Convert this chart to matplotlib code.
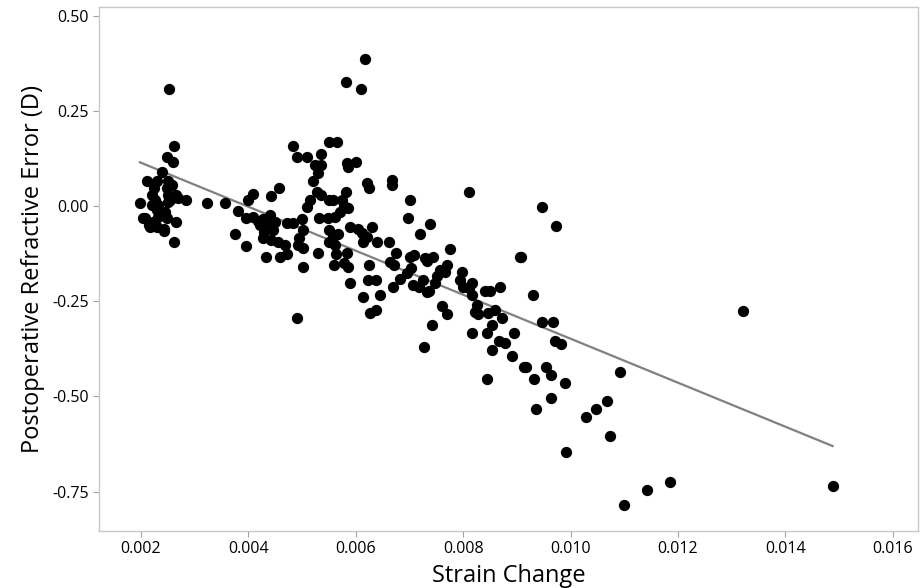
import matplotlib.pyplot as plt
import numpy as np

plt.rcParams['font.family'] = ['Open Sans', 'DejaVu Sans']

# strain change vs postoperative refractive error
strain = [
    # left cluster
    0.00252, 0.00262, 0.00248, 0.00259, 0.00239, 0.00212, 0.00229, 0.00251, 0.00257, 0.00225,
    0.00248, 0.00220, 0.00251, 0.00266, 0.00226, 0.00254, 0.00269, 0.00284, 0.00198, 0.00220,
    0.00232, 0.00251, 0.00229, 0.00245, 0.00207, 0.00232, 0.00248, 0.00265, 0.00214, 0.00229,
    0.00242, 0.00262, 0.00222, 0.00204, 0.00217, 0.00243,
    # 0.003 - 0.0055
    0.00323, 0.00357, 0.004825, 0.0049, 0.00509, 0.00536, 0.0055, 0.00565, 0.00524, 0.00535,
    0.0053, 0.0052, 0.00527, 0.00535, 0.00515, 0.0051, 0.00457, 0.00443, 0.00408, 0.0040,
    0.00381, 0.00395, 0.00408, 0.00418, 0.00428, 0.0044, 0.00422, 0.00434, 0.0045, 0.0043,
    0.00445, 0.00428, 0.00443, 0.00456, 0.00468, 0.00472, 0.00458, 0.00433, 0.00375, 0.00396,
    0.00472, 0.00484, 0.00499, 0.00502, 0.00495, 0.00493, 0.00502, 0.0053, 0.00502, 0.00491,
    0.00532, 0.00549, 0.00551, 0.00551, 0.00551,
    # 0.0055 - 0.0075
    0.00618, 0.00581, 0.00609, 0.00583, 0.0060, 0.00586, 0.0062, 0.00625, 0.00667, 0.00668,
    0.00582, 0.00557, 0.00575, 0.00701, 0.00578, 0.00586, 0.00571, 0.00561, 0.00698, 0.00589,
    0.00605, 0.00611, 0.00631, 0.0062, 0.00613, 0.0064, 0.00661, 0.0072, 0.00738, 0.00558,
    0.00566, 0.00561, 0.00564, 0.00584, 0.00559, 0.00578, 0.00586, 0.00625, 0.00589, 0.00623,
    0.00638, 0.00614, 0.00646, 0.00626, 0.00638, 0.00675, 0.00664, 0.00671, 0.00701, 0.00708,
    0.00729, 0.00702, 0.00696, 0.00682, 0.00669, 0.00706, 0.00718, 0.00726, 0.00733,
    # 0.0075 - 0.009
    0.00811, 0.00946, 0.00744, 0.00733, 0.00775, 0.00906, 0.00769, 0.00757, 0.00766, 0.00752,
    0.00797, 0.00794, 0.00747, 0.00737, 0.00816, 0.00799, 0.0081, 0.00816, 0.00841, 0.0085,
    0.00869, 0.0076, 0.0077, 0.00825, 0.00822, 0.00828, 0.00847, 0.00859, 0.00873, 0.00853,
    0.00844, 0.00817, 0.00895, 0.00867, 0.00878, 0.00742, 0.00727, 0.00853, 0.00844,
    # right tail
    0.00973, 0.00907, 0.0093, 0.00946, 0.00968, 0.00971, 0.00982, 0.0089, 0.00913, 0.00917,
    0.00954, 0.00963, 0.00932, 0.0099, 0.01092, 0.01321, 0.00964, 0.00935, 0.01028, 0.01047,
    0.01068, 0.00992, 0.01074, 0.01099, 0.01142, 0.01186, 0.01488,
]
error = [
    0.307, 0.158, 0.129, 0.116, 0.088, 0.066, 0.066, 0.066, 0.055, 0.046,
    0.046, 0.029, 0.029, 0.029, 0.016, 0.016, 0.020, 0.016, 0.009, 0.003,
    0.003, 0.011, -0.011, -0.015, -0.032, -0.030, -0.032, -0.041, -0.050, -0.054,
    -0.061, -0.094, -0.041, -0.032, -0.054, -0.065,

    0.009, 0.007, 0.158, 0.128, 0.128, 0.137, 0.167, 0.167, 0.108, 0.108,
    0.087, 0.066, 0.038, 0.029, 0.016, -0.003, 0.046, 0.026, 0.031, 0.016,
    -0.012, -0.032, -0.030, -0.039, -0.035, -0.024, -0.050, -0.050, -0.041, -0.067,
    -0.063, -0.085, -0.089, -0.094, -0.102, -0.126, -0.133, -0.133, -0.074, -0.105,
    -0.044, -0.044, -0.035, -0.063, -0.085, -0.102, -0.111, -0.124, -0.161, -0.295,
    -0.032, -0.032, 0.016, -0.063, -0.094,

    0.386, 0.326, 0.306, 0.112, 0.116, 0.102, 0.060, 0.046, 0.068, 0.055,
    0.038, 0.016, 0.016, 0.016, 0.000, -0.006, -0.015, -0.028, -0.032, -0.054,
    -0.061, -0.072, -0.054, -0.082, -0.094, -0.094, -0.094, -0.074, -0.046, -0.081,
    -0.074, -0.102, -0.126, -0.124, -0.155, -0.151, -0.161, -0.155, -0.203, -0.194,
    -0.194, -0.238, -0.234, -0.282, -0.273, -0.124, -0.146, -0.155, -0.133, -0.129,
    -0.137, -0.164, -0.177, -0.193, -0.212, -0.207, -0.212, -0.194, -0.225,

    0.036, -0.003, -0.135, -0.144, -0.114, -0.135, -0.155, -0.168, -0.173, -0.184,
    -0.173, -0.194, -0.203, -0.222, -0.203, -0.214, -0.216, -0.234, -0.222, -0.222,
    -0.214, -0.263, -0.284, -0.260, -0.278, -0.284, -0.282, -0.273, -0.295, -0.313,
    -0.334, -0.334, -0.334, -0.354, -0.361, -0.313, -0.371, -0.378, -0.454,

    -0.053, -0.133, -0.234, -0.304, -0.304, -0.354, -0.362, -0.394, -0.422, -0.422,
    -0.422, -0.444, -0.455, -0.464, -0.435, -0.275, -0.505, -0.534, -0.553, -0.534,
    -0.513, -0.645, -0.605, -0.786, -0.746, -0.726, -0.735,
]

x = np.array(strain)
y = np.array(error)

fig = plt.figure(figsize=(9.24, 5.88), dpi=100)
ax = fig.add_axes([99/924, 1-531/588, 819/924, 524/588])

ax.scatter(x, y, s=66, color='black', zorder=3, linewidths=0)

# least squares fit line
b, a = np.polyfit(x, y, 1)
xs = np.array([x.min(), x.max()])
ax.plot(xs, a + b*xs, color='#808080', lw=1.6, zorder=2)

ax.set_xlim(0.001218, 0.01647)
ax.set_ylim(-0.8535, 0.5226)
ax.set_xticks([0.002, 0.004, 0.006, 0.008, 0.010, 0.012, 0.014, 0.016])
ax.set_xticklabels(['0.002', '0.004', '0.006', '0.008', '0.010', '0.012', '0.014', '0.016'])
ax.set_yticks([0.5, 0.25, 0.0, -0.25, -0.5, -0.75])
ax.set_yticklabels(['0.50', '0.25', '0.00', '-0.25', '-0.50', '-0.75'])

for sp in ax.spines.values():
    sp.set_color('#c8c8c8')
    sp.set_linewidth(1)
ax.tick_params(colors='#a0a0a0', labelcolor='black', labelsize=11.5, length=4)

ax.set_xlabel('Strain Change', fontsize=17, labelpad=5)
ax.set_ylabel('Postoperative Refractive Error (D)', fontsize=17, labelpad=5)

fig.savefig('out.png', dpi=100)
